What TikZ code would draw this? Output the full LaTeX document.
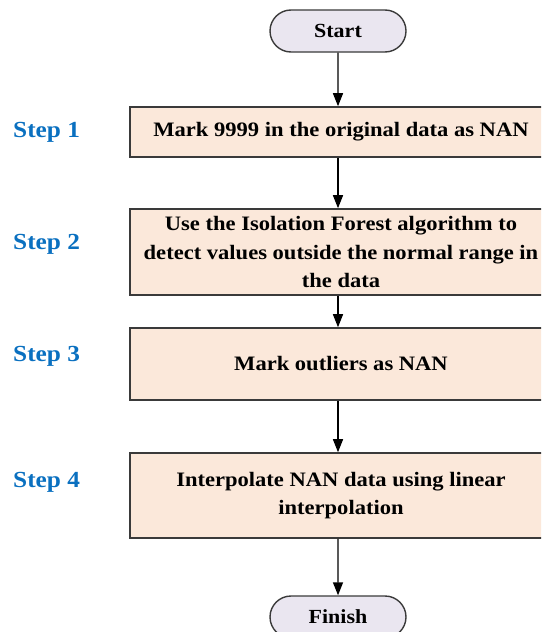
\documentclass[tikz,border=0pt]{standalone}
\usepackage{fontspec}
\setmainfont[FakeStretch=1.1]{Liberation Serif}
\usetikzlibrary{arrows.meta,shapes.misc}
\definecolor{boxfill}{HTML}{FBE8DA}
\definecolor{termfill}{HTML}{EAE6F0}
\definecolor{edge}{HTML}{3A3A3A}
\definecolor{stepblue}{HTML}{0A70C0}
\tikzset{
  stepbox/.style={draw=edge, line width=1.6pt, fill=boxfill, rectangle, minimum width=422pt, inner sep=0pt, align=center, font=\fontsize{20.5}{28.5}\selectfont\bfseries},
  term/.style={draw=edge, line width=1.4pt, fill=termfill, rounded rectangle, minimum width=136pt, minimum height=42pt, inner sep=0pt, font=\fontsize{20}{23}\selectfont\bfseries},
  steplabel/.style={text=stepblue, anchor=west, inner sep=0pt, font=\fontsize{23}{26}\selectfont\bfseries},
  flow/.style={draw=black, line width=1.4pt, -{Triangle[width=10pt,length=13pt]}}
}
\begin{document}
\begin{tikzpicture}[x=1pt,y=-1pt]
\useasboundingbox (0,0) rectangle (541,632);
\clip (0,0) rectangle (541,632);
\node[term] (start) at (338,31) {Start};
\node[stepbox, minimum height=50pt] (b1) at (341,132) {Mark 9999 in the original data as NAN};
\node[stepbox, minimum height=86pt] (b2) at (341,252) {Use the Isolation Forest algorithm to\\detect values outside the normal range in\\the data};
\node[stepbox, minimum height=72pt] (b3) at (341,364) {Mark outliers as NAN};
\node[stepbox, minimum height=85pt] (b4) at (341,495.5) {Interpolate NAN data using linear\\interpolation};
\node[term] (finish) at (338,617) {Finish};
\node[steplabel] (s1) at (13,132) {Step 1};
\node[steplabel] (s2) at (13,244) {Step 2};
\node[steplabel] (s3) at (13,356) {Step 3};
\node[steplabel] (s4) at (13,482) {Step 4};
\draw[flow] (start) -- (start |- b1.north);
\draw[flow] (start |- b1.south) -- (start |- b2.north);
\draw[flow] (start |- b2.south) -- (start |- b3.north);
\draw[flow] (start |- b3.south) -- (start |- b4.north);
\draw[flow] (start |- b4.south) -- (finish);
\end{tikzpicture}
\end{document}
